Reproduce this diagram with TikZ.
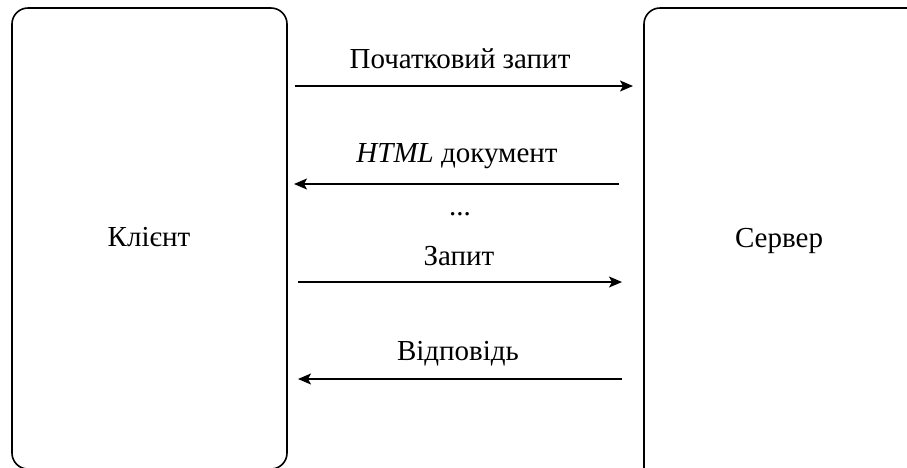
\documentclass[tikz,border=0pt]{standalone}
\usepackage{fontspec}
\setmainfont{Liberation Serif}
\usetikzlibrary{arrows.meta}
\begin{document}
\begin{tikzpicture}[x=1pt,y=-1pt,
  party/.style={draw=black,line width=1.6pt,rounded corners=16pt},
  msg/.style={line width=1.4pt,-{Stealth[length=13pt,width=11pt,inset=3pt]}},
  lbl/.style={font=\fontsize{29}{34}\selectfont,inner sep=0pt,anchor=base}]
\useasboundingbox (0,0) rectangle (907,467);
\clip (0,0) rectangle (907,467);
\fill[white] (0,0) rectangle (907,467);
% client and server lanes
\draw[party] (12,8) rectangle (287,469);
\draw[party] (644,8) rectangle (960,520);
\node[lbl] (client) at (149,246) {Клієнт};
\node[lbl] (server) at (779,247) {Сервер};
% message endpoints
\coordinate (r1s) at (295,86);  \coordinate (r1e) at (633,86);
\coordinate (r2s) at (619,184); \coordinate (r2e) at (294,184);
\coordinate (r3s) at (298,282); \coordinate (r3e) at (622,282);
\coordinate (r4s) at (622,379); \coordinate (r4e) at (298,379);
\draw[msg] (r1s) -- (r1e);
\draw[msg] (r2s) -- (r2e);
\draw[msg] (r3s) -- (r3e);
\draw[msg] (r4s) -- (r4e);
% message labels
\node[lbl] (l1) at (460,68) {Початковий запит};
\node[lbl] (l2) at (457,162) {\textit{HTML} документ};
\node[lbl] (dots) at (460,215) {...};
\node[lbl] (l3) at (459,265) {Запит};
\node[lbl] (l4) at (458,360) {Відповідь};
\end{tikzpicture}
\end{document}
